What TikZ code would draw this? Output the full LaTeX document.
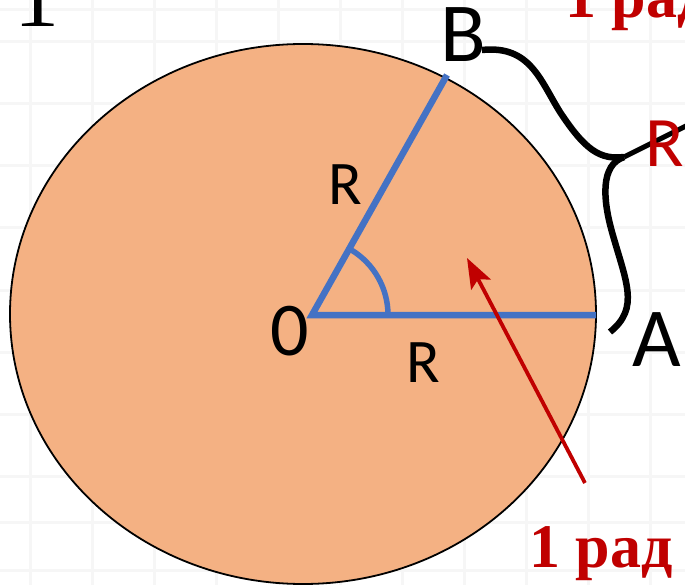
\documentclass[tikz,border=0pt]{standalone}
\usepackage{fontspec}
\usepackage{xcolor}
\usetikzlibrary{arrows.meta,calc}
\setmainfont{Carlito}
\newfontfamily\serifbold[Script=Cyrillic]{Liberation Serif}
\definecolor{DiscFill}{HTML}{F4B183}
\definecolor{RayBlue}{HTML}{4472C4}
\definecolor{DarkRed}{RGB}{192,0,0}

\begin{document}
\begin{tikzpicture}[x=1pt, y=-1pt]
		\useasboundingbox (0,0) rectangle (685,585);
		\fill[white] (0,0) rectangle (685,585);
		% faint notebook grid
		\begin{scope}
			\clip (0,0) rectangle (685,585);
			\foreach \gx in {30,92,154,216,278,340,402,464,526,588,650}
				\draw[black!3.5, line width=3pt] (\gx,0) -- (\gx,585);
			\foreach \gy in {10,42,104,166,228,290,352,414,476,522,570}
				\draw[black!3.5, line width=3pt] (0,\gy) -- (685,\gy);
		\end{scope}
		\coordinate (O) at (312,315);
		\coordinate (A) at (596,315);
		\coordinate (B) at (447,75);
		\coordinate (C) at (303,314);
		\coordinate (Cusp) at (624,157);
		\coordinate (Tip) at (690,124);
		\coordinate (ArrTail) at (585,483);
		\coordinate (ArrHead) at (467,258);
		\filldraw[fill=DiscFill, draw=black, line width=1.8pt] (C) ellipse [x radius=293, y radius=270];
		\draw[RayBlue, line width=6.5pt] (A)--(O)--(B);
		\draw[RayBlue, line width=5.5pt] ($(O)+(76,0)$) arc[start angle=0, end angle=-59, radius=76];
		\draw[DarkRed, line width=3.8pt, -{Stealth[length=30pt, width=22pt, inset=6pt]}] (ArrTail)--(ArrHead);
		% brace from B to A
		\draw[line width=6.5pt] (482,50) .. controls (530,45) and (540,80) .. (560,112) .. controls (585,150) and (600,160) .. (Cusp);
		\draw[line width=6.5pt] (Cusp) .. controls (600,165) and (603,200) .. (612,232) .. controls (626,282) and (640,308) .. (610,332);
		\draw[line width=5pt] (Cusp)--(Tip);
		\node[anchor=base west, inner sep=0pt, font=\fontsize{84}{84}\selectfont] (labB) at (440,62) {B};
		\node[anchor=base west, inner sep=0pt, font=\fontsize{84}{84}\selectfont] (labA) at (632,366) {A};
		\node[anchor=base west, inner sep=0pt, font=\fontsize{76}{76}\selectfont] (labO) at (270,355) {0};
		\node[anchor=base west, inner sep=0pt, font=\fontsize{62}{62}\selectfont] (labRb) at (328,205) {R};
		\node[anchor=base west, inner sep=0pt, font=\fontsize{62}{62}\selectfont] (labRa) at (406,382) {R};
		\node[anchor=base west, inner sep=0pt, text=DarkRed, font=\fontsize{71}{71}\selectfont] (labRarc) at (645,167) {R};
		\node[anchor=base west, inner sep=0pt, text=DarkRed, font=\serifbold\bfseries\fontsize{62}{62}\selectfont] (rad) at (529,567) {1 рад};
		\node[anchor=base west, inner sep=0pt, text=DarkRed, font=\serifbold\bfseries\fontsize{62}{62}\selectfont] (radtop) at (565,18) {1 рад};
		\node[anchor=base west, inner sep=0pt, font=\serifbold\fontsize{90}{90}\selectfont] (num) at (14,27) {1};
	\end{tikzpicture}
\end{document}
